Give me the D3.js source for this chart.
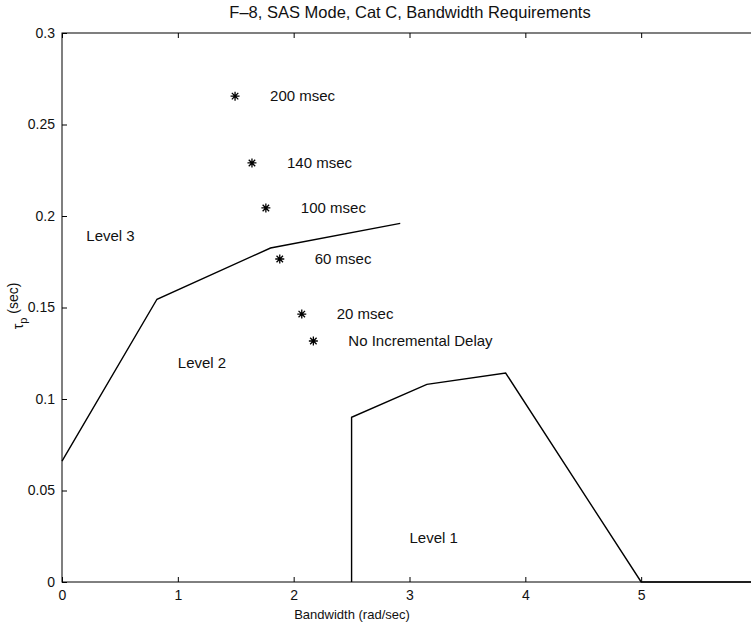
<!DOCTYPE html>
<html><head><meta charset="utf-8">
<script src="https://cdn.jsdelivr.net/npm/d3@7"></script>
<style>body{margin:0;background:#fff}svg{display:block}text{font-family:"Liberation Sans",Arial,Helvetica,sans-serif;fill:#111}</style>
</head><body>
<script>
// Data
const level23X = [0, 0.82, 1.80, 2.92];
const level23Y = [0.066, 0.1545, 0.1825, 0.196];
const level1X = [2.5, 2.5, 3.15, 3.83, 5.0, 6.0];
const level1Y = [0, 0.090, 0.108, 0.1142, 0, 0];
const pointLabels = ["200 msec", "140 msec", "100 msec", "60 msec", "20 msec", "No Incremental Delay"];
const pointX = [1.494, 1.64, 1.76, 1.88, 2.07, 2.17];
const pointY = [0.2655, 0.229, 0.2044, 0.1765, 0.1464, 0.1317];
const regionLabels = ["Level 3", "Level 2", "Level 1"];
const regionX = [0.21, 1.0, 3.0];
const regionY = [0.189, 0.1197, 0.024];
const xTicks = [0, 1, 2, 3, 4, 5, 6];
const xTickLabels = ["0", "1", "2", "3", "4", "5", ""];
const yTicks = [0, 0.05, 0.1, 0.15, 0.2, 0.25, 0.3];
const yTickLabels = ["0", "0.05", "0.1", "0.15", "0.2", "0.25", "0.3"];

const W = 751, H = 627;
const svg = d3.select("body").append("svg").attr("width", W).attr("height", H);
const x = d3.scaleLinear().domain([0, 6]).range([62, 757]);
const y = d3.scaleLinear().domain([0, 0.3]).range([582, 33]);

const g = svg.append("g");
g.append("rect").attr("x", x(0)).attr("y", y(0.3)).attr("width", x(6) - x(0)).attr("height", y(0) - y(0.3))
  .attr("fill", "none").attr("stroke", "#000").attr("stroke-width", 1);

const xb = g.append("g").attr("transform", `translate(0,${y(0)})`).call(d3.axisBottom(x).tickValues(xTicks).tickSizeInner(-5).tickSizeOuter(0).tickPadding(8).tickFormat((d, i) => xTickLabels[i]));
const xt = g.append("g").attr("transform", `translate(0,${y(0.3)})`).call(d3.axisTop(x).tickValues(xTicks).tickSizeInner(-5).tickSizeOuter(0).tickFormat(""));
const yl = g.append("g").attr("transform", `translate(${x(0)},0)`).call(d3.axisLeft(y).tickValues(yTicks).tickSizeInner(-5).tickSizeOuter(0).tickPadding(7).tickFormat((d, i) => yTickLabels[i]));
const yr = g.append("g").attr("transform", `translate(${x(6)},0)`).call(d3.axisRight(y).tickValues(yTicks).tickSizeInner(-5).tickSizeOuter(0).tickFormat(""));
[xb, xt, yl, yr].forEach(a => {
  a.select(".domain").remove();
  a.selectAll("line").attr("stroke", "#000");
  a.selectAll("text").style("font-size", "14px").attr("fill", "#111")
    .style("font-family", '"Liberation Sans",Arial,sans-serif');
});

const line = d3.line().x(d => x(d[0])).y(d => y(d[1]));
g.append("path").datum(level23X.map((v, i) => [v, level23Y[i]])).attr("d", line)
  .attr("fill", "none").attr("stroke", "#000").attr("stroke-width", 1.4);
g.append("path").datum(level1X.map((v, i) => [v, level1Y[i]])).attr("d", line)
  .attr("fill", "none").attr("stroke", "#000").attr("stroke-width", 1.4);

const s = 4.5;
const star = `M${-s},0L${s},0M0,${-s}L0,${s}M${-s*0.72},${-s*0.72}L${s*0.72},${s*0.72}M${-s*0.72},${s*0.72}L${s*0.72},${-s*0.72}`;
pointX.forEach((px, i) => {
  g.append("path").attr("d", star).attr("transform", `translate(${x(px)},${y(pointY[i])})`)
    .attr("stroke", "#000").attr("stroke-width", 1.3).attr("fill", "none");
  g.append("text").attr("x", x(px) + 35).attr("y", y(pointY[i])).attr("dy", "0.35em")
    .style("font-size", "15px").text(pointLabels[i]);
});

regionLabels.forEach((t, i) => {
  g.append("text").attr("x", x(regionX[i])).attr("y", y(regionY[i])).attr("dy", "0.35em")
    .attr("text-anchor", "start").style("font-size", "15px").text(t);
});

svg.append("text").attr("x", 410).attr("y", 18).attr("text-anchor", "middle").style("font-size", "16.5px")
  .text("F\u20138, SAS Mode, Cat C, Bandwidth Requirements");
svg.append("text").attr("x", 352).attr("y", 619).attr("text-anchor", "middle").style("font-size", "13px")
  .text("Bandwidth (rad/sec)");
const yt = svg.append("text").attr("transform", "translate(23,306) rotate(-90)").attr("text-anchor", "middle").style("font-size", "14px");
yt.append("tspan").text("\u03c4");
yt.append("tspan").attr("dy", 4).style("font-size", "11px").text("p");
yt.append("tspan").attr("dy", -9).text(" (sec)");
</script>
</body></html>
